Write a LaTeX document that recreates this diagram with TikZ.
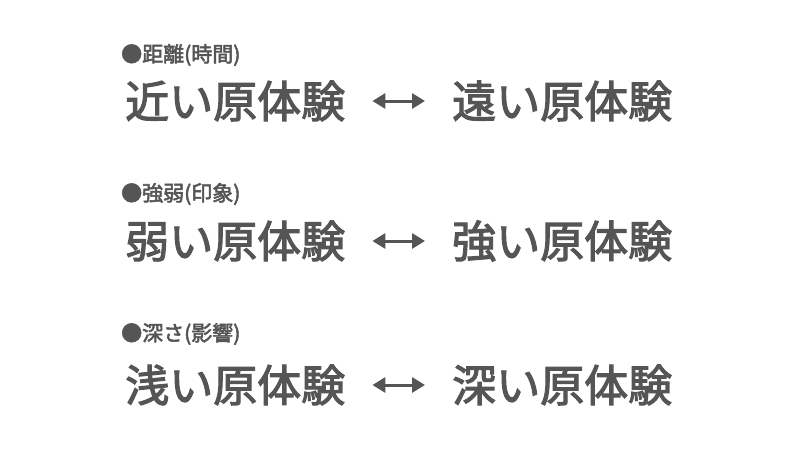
\documentclass[tikz,border=0pt]{standalone}
\usepackage{fontspec}
\usepackage{tikz}
\usetikzlibrary{arrows.meta}
\newfontfamily\jpfont{Noto Sans CJK JP}[BoldFont={Noto Sans CJK JP},BoldFeatures={FakeBold=2.5}]
\definecolor{texte}{HTML}{555555}
\tikzset{
Titre/.style={
 anchor=west,
 inner sep=0pt,
 text=texte,
 font=\jpfont\bfseries\fontsize{21}{21}\selectfont
 },
Mot/.style={
 anchor=west,
 inner sep=0pt,
 text=texte,
 font=\jpfont\bfseries\fontsize{44}{44}\selectfont
 },
DFleche/.style={
 draw=texte,
 line width=3pt,
 {Triangle[length=13pt,width=15pt]}-{Triangle[length=13pt,width=15pt]},
 shorten <=27pt,
 shorten >=27pt
 }
}

\begin{document}
\begin{tikzpicture}[x=1pt,y=-1pt]
\useasboundingbox[fill=white] (0,0) rectangle (800,450);
\node[Titre] (t1) at (121,55) {●距離(時間)};
\node[Mot] (p1) at (125,101) {近い原体験};
\node[Mot] (l1) at (452,101) {遠い原体験};
\draw[DFleche] (p1.east) -- (l1.west);
\node[Titre] (t2) at (121,194) {●強弱(印象)};
\node[Mot] (p2) at (125,241) {弱い原体験};
\node[Mot] (l2) at (452,241) {強い原体験};
\draw[DFleche] (p2.east) -- (l2.west);
\node[Titre] (t3) at (121,334) {●深さ(影響)};
\node[Mot] (p3) at (125,385) {浅い原体験};
\node[Mot] (l3) at (452,385) {深い原体験};
\draw[DFleche] (p3.east) -- (l3.west);
\end{tikzpicture}
\end{document}
